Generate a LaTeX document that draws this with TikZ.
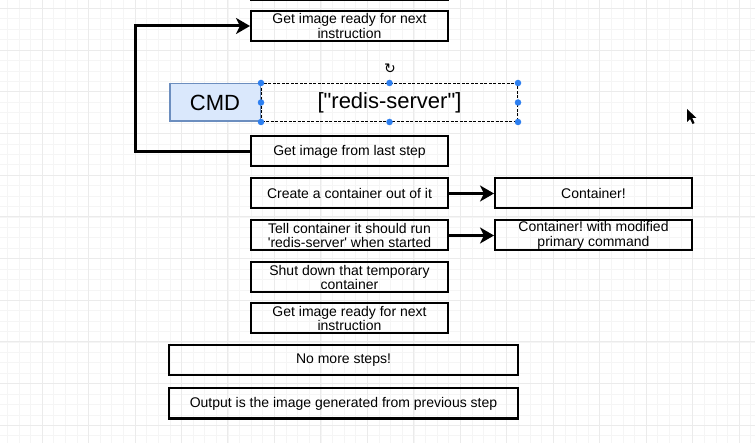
\documentclass[tikz,border=0pt]{standalone}
\usepackage{fontspec}
\setmainfont{Liberation Sans}[Ligatures=TeXOff]
\newfontfamily\symfont{DejaVu Sans}
\usetikzlibrary{positioning,arrows.meta,calc}
\frenchspacing

\definecolor{cmdfill}{HTML}{DAE8FC}
\definecolor{cmdline}{HTML}{6C8EBF}
\definecolor{handleblue}{HTML}{2D7FF0}

\begin{document}
\begin{tikzpicture}[x=1pt,y=-1pt,
  every node/.style={inner sep=1pt,align=center,font=\fontsize{14}{14.5}\selectfont},
  stepbox/.style={draw,line width=2pt,minimum width=197pt,minimum height=30pt},
  widebox/.style={stepbox,minimum width=349pt},
  flow/.style={line width=3pt,-{Stealth[length=14pt,width=16pt,inset=4pt]}},
  handle/.style={circle,fill=handleblue,inner sep=0pt,minimum size=6.5pt},
  gridminor/.style={line width=0.5pt,black!4},
  gridmajor/.style={line width=0.8pt,black!8}]
  \useasboundingbox[fill=white] (0,0) rectangle (755,443);
  % background grid
  \foreach \k in {-4,...,64}
    \draw[gridminor] ({42+11.6175*\k},0) -- ({42+11.6175*\k},443);
  \foreach \k in {-4,...,44}
    \draw[gridminor] (0,{8.3+10.425*\k}) -- (755,{8.3+10.425*\k});
  \foreach \k in {-1,...,16}
    \draw[gridmajor] ({42+46.47*\k},0) -- ({42+46.47*\k},443);
  \foreach \k in {-1,...,11}
    \draw[gridmajor] (0,{8.3+41.7*\k}) -- (755,{8.3+41.7*\k});

  \node[stepbox] (prev) at (349.5,-15) {};
  \node[stepbox] (ready1) at (349.5,26) {Get image ready for next\\instruction};
  \node[draw=cmdline,fill=cmdfill,line width=1.5pt,minimum width=90.5pt,minimum height=37.5pt,
    font=\fontsize{22}{22}\selectfont] (cmd) at (215,102.5) {CMD};
  \node[draw,dashed,dash pattern=on 3pt off 1.5pt,line width=1.2pt,minimum width=255.8pt,
    minimum height=37.8pt,font=\fontsize{22}{22}\selectfont,right=0pt of cmd] (redis) {["redis-server"]};
  \foreach \a/\n in {north west/1,north/2,north east/3,west/4,east/5,south west/6,south/7,south east/8}
    \node[handle] (h\n) at (redis.\a) {};
  \node[font=\symfont\fontsize{14}{14}\selectfont] (rot) at (390,69) {↻};

  \node[stepbox] (last) at (349.5,151.5) {Get image from last step};
  \node[stepbox,below=10pt of last] (create) {Create a container out of it};
  \node[stepbox,below=10pt of create] (tell) {Tell container it should run\\'redis-server' when started};
  \node[stepbox,below=10pt of tell] (shut) {Shut down that temporary\\container};
  \node[stepbox,below=9pt of shut] (ready2) {Get image ready for next\\instruction};
  \node[widebox,below=10pt of ready2,xshift=-6pt] (nomore) {No more steps!};
  \node[widebox,below=11pt of nomore] (output) {Output is the image generated from previous step};

  \node[stepbox,right=45pt of create] (cont) {Container!};
  \node[stepbox,right=45pt of tell] (cont2) {Container! with modified\\primary command};

  \draw[flow] (create) -- (cont);
  \draw[flow] (tell) -- (cont2);
  \draw[flow] (last.west) -- ++(-115,0) |- (ready1.west);

  % mouse pointer
  \fill (687,109) -- (687,122) -- (690,119) -- (692.5,124) -- (694.5,123) -- (692.3,118) -- (696.5,118) -- cycle;
\end{tikzpicture}
\end{document}
